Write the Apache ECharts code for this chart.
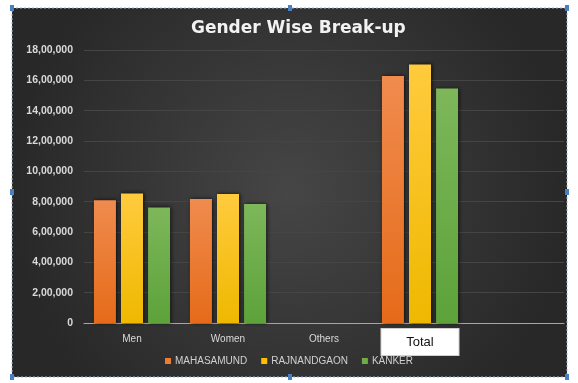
<!DOCTYPE html>
<html><head><meta charset="utf-8">
<script src="https://cdn.jsdelivr.net/npm/echarts@6/dist/echarts.min.js"></script>
<style>html,body{margin:0;padding:0;background:#fff}#c{width:578px;height:383px}</style>
</head><body><div id="c"></div>
<script>
const categories = ['Men', 'Women', 'Others', 'Total', ''];
const mahasamund = [810000, 818000, 20, 1628020];
const rajnandgaon = [854000, 851000, 30, 1705030];
const kanker = [762000, 784000, 15, 1546015];
const seriesNames = ['MAHASAMUND', 'RAJNANDGAON', 'KANKER'];
const yTicks = [0, 200000, 400000, 600000, 800000, 1000000, 1200000, 1400000, 1600000, 1800000];

function indian(v) {
  if (v === 0) return '0';
  let s = String(Math.round(v));
  let last3 = s.slice(-3), rest = s.slice(0, -3);
  if (rest) rest = rest.replace(/\B(?=(\d{2})+(?!\d))/g, ',') + ',';
  return rest + last3;
}
function grad(top, bottom) {
  return new echarts.graphic.LinearGradient(0, 0, 0, 1, [{offset: 0, color: top}, {offset: 1, color: bottom}]);
}
const colors = [grad('#F08B4E', '#E56B19'), grad('#FFCB3D', '#EFB800'), grad('#7DB75A', '#5DA23A')];
const legendColors = ['#ED7D31', '#FFC000', '#70AD47'];
const datasets = [mahasamund, rajnandgaon, kanker];

const chart = echarts.init(document.getElementById('c'), null, {renderer: 'canvas'});
const handle = (x, y) => ({type: 'rect', shape: {x: x - 2, y: y - 3, width: 4, height: 6}, style: {fill: '#4a7fc1'}, z: 5, silent: true});
chart.setOption({
  animation: false,
  graphic: [
    {type: 'rect', z: -10, shape: {x: 12, y: 8, width: 555, height: 369},
     style: {fill: new echarts.graphic.RadialGradient(0.5, 0.5, 0.75, [{offset: 0, color: '#464646'}, {offset: 1, color: '#282828'}]),
             stroke: '#9fb6d6', lineWidth: 1, lineDash: [2, 2]}, silent: true},
    handle(12, 8), handle(290, 8), handle(567, 8), handle(12, 192), handle(567, 192), handle(12, 377), handle(290, 377), handle(567, 377)
  ],
  title: {text: 'Gender Wise Break-up', left: 186, top: 15,
    textStyle: {color: '#f2f2f2', fontSize: 17, fontWeight: 'bold', fontFamily: 'DejaVu Sans'}},
  legend: {data: seriesNames.map((n, i) => ({name: n, itemStyle: {color: legendColors[i]}})),
    bottom: 12, left: 'center', itemWidth: 6, itemHeight: 6, itemGap: 14, icon: 'rect',
    textStyle: {color: '#d0d0d0', fontSize: 10, fontFamily: 'Liberation Sans', padding: [0, 0, 0, -1]}},
  grid: {left: 84, right: 14, top: 50, bottom: 60},
  xAxis: {type: 'category', data: categories,
    axisLine: {lineStyle: {color: '#a6a6a6', width: 1}}, axisTick: {show: false},
    axisLabel: {margin: 6, interval: 0,
      formatter: v => v === 'Total' ? '{box|Total}' : '{n|' + v + '}',
      rich: {
        n: {color: '#d9d9d9', fontSize: 10, lineHeight: 20, fontFamily: 'Liberation Sans'},
        box: {backgroundColor: '#ffffff', color: '#111', width: 77, height: 26, lineHeight: 26, align: 'center',
              fontSize: 13, fontFamily: 'Liberation Sans', borderColor: '#d0d0d0', borderWidth: 1}
      }}},
  yAxis: {type: 'value', min: 0, max: yTicks[yTicks.length - 1], interval: yTicks[1] - yTicks[0],
    axisLine: {show: false}, axisTick: {show: false},
    splitLine: {lineStyle: {color: '#454545', width: 1}},
    axisLabel: {color: '#d9d9d9', fontSize: 10.5, fontWeight: 'bold', fontFamily: 'Liberation Sans', margin: 11, formatter: indian}},
  series: seriesNames.map((n, i) => ({
    name: n, type: 'bar', data: datasets[i], barWidth: 22, barGap: '23%',
    itemStyle: {color: colors[i], shadowBlur: 4, shadowColor: 'rgba(0,0,0,0.75)', shadowOffsetX: 1, shadowOffsetY: 0}
  }))
});
</script></body></html>
